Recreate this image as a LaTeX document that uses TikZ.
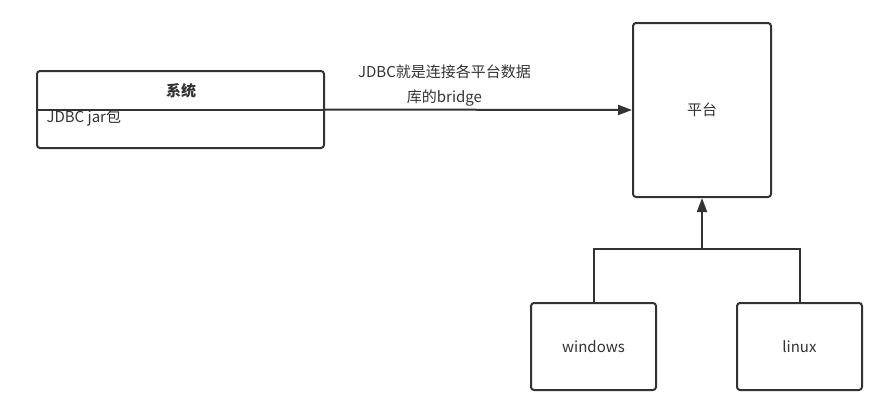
\documentclass[tikz,border=0pt]{standalone}
\usepackage{fontspec}
\setmainfont{Noto Sans CJK SC}
\usepackage{tikz}
\usetikzlibrary{arrows.meta,positioning}
\definecolor{ink}{HTML}{333333}

\begin{document}
\begin{tikzpicture}[
			x=1pt,y=-1pt,
			every node/.style={font=\fontsize{15}{25}\selectfont,text=ink},
			box/.style={draw=ink,line width=2pt,rounded corners=3pt,inner sep=0pt},
			link/.style={draw=ink,line width=2pt},
			tip/.style={-{Triangle[length=14pt,width=10pt]}}
			]

			\useasboundingbox (0,0) rectangle (886,410);

			\node[box,minimum width=287,minimum height=77] (sys) at (180.5,109.5) {};
			\draw[link] (sys.west) -- (sys.east);
			\node[font=\fontsize{15}{25}\selectfont\bfseries] (systitle) at (181,91) {系统};
			\node[anchor=west] (jar) at (43,118) {JDBC jar包};

			\node[box,minimum width=138,minimum height=174] (plat) at (702,110) {平台};
			\node[box,minimum width=125,minimum height=87] (win) at (593.5,346.5) {windows};
			\node[box,minimum width=125,minimum height=87] (lin) at (799.5,346.5) {linux};

			\draw[link,tip] (sys.east) -- (plat.west) node[midway,above=-1pt,align=center,xshift=-34pt] (bridge) {JDBC就是连接各平台数据\\库的bridge};

			\coordinate (fork) at (702,249);
			\draw[link] (win.north) |- (fork) -| (lin.north);
			\draw[link,tip] (fork) -- (plat.south);

			\end{tikzpicture}
\end{document}
